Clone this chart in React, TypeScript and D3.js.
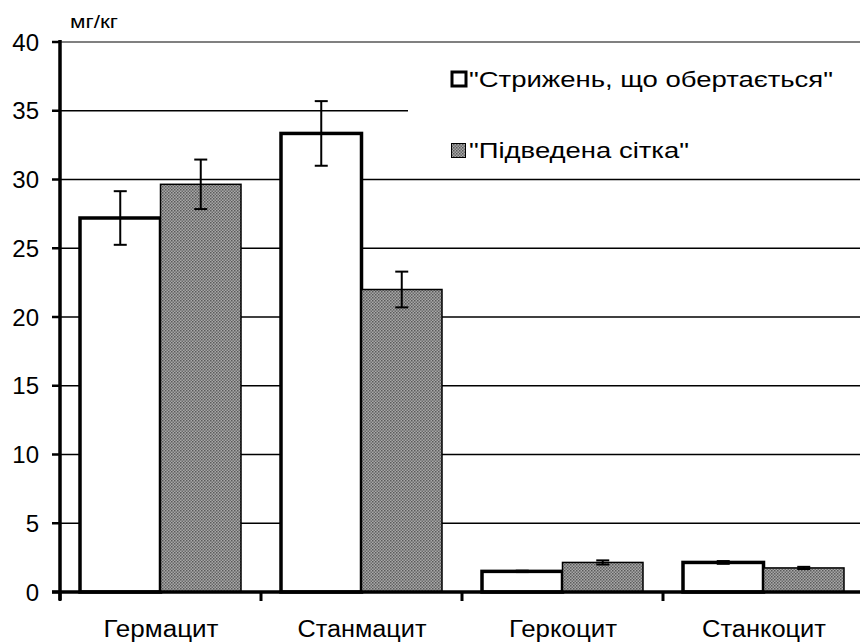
import React from "react";
import * as d3 from "d3";

const categories = ["Гермацит", "Станмацит", "Геркоцит", "Станкоцит"];
const seriesNames = ["\"Стрижень, що обертається\"", "\"Підведена сітка\""];
const rodValues = [27.2, 33.35, 1.5, 2.15];
const rodErrors = [1.95, 2.35, 0.05, 0.1];
const meshValues = [29.65, 22.0, 2.15, 1.75];
const meshErrors = [1.8, 1.3, 0.15, 0.08];
const yTicks = [0, 5, 10, 15, 20, 25, 30, 35, 40];
const unitLabel = "мг/кг";

const W = 860;
const H = 642;
const FONT = "'Liberation Sans', Arial, sans-serif";
const catLabelWidths = [115, 129, 108, 124];
const legendWidths = [364, 220];

export default function App() {
  const x0 = d3.scaleBand<string>().domain(categories).range([60, 864]).padding(0);
  const x1 = d3.scaleBand<number>().domain([0, 1]).range([20, x0.bandwidth() - 20]).padding(0);
  const y = d3.scaleLinear().domain([0, 40]).range([592, 42]);

  const series = [
    { values: rodValues, errors: rodErrors },
    { values: meshValues, errors: meshErrors },
  ];

  const legendLeft = 408;

  return (
    <svg width={W} height={H} style={{ position: "absolute", left: 0, top: 0, background: "#fff" }}>
      <defs>
        <pattern id="dots" width="3" height="3" patternUnits="userSpaceOnUse">
          <rect width="3" height="3" fill="#a8a8a8" />
          <rect x="0" y="0" width="1.5" height="1.5" fill="#5a5a5a" />
          <rect x="1.5" y="1.5" width="1.5" height="1.5" fill="#6a6a6a" />
        </pattern>
      </defs>

      {/* gridlines */}
      {yTicks.filter((t) => t > 0).map((t) => (
        <line
          key={"g" + t}
          x1={60}
          x2={t === 35 ? legendLeft : W}
          y1={y(t)}
          y2={y(t)}
          stroke={t === 40 ? "#808080" : "#000"}
          strokeWidth={t === 40 ? 2 : 1.3}
        />
      ))}

      {/* bars */}
      {categories.map((c, ci) =>
        series.map((s, si) => {
          const bx = (x0(c) as number) + (x1(si) as number);
          const bw = x1.bandwidth();
          const v = s.values[ci];
          const e = s.errors[ci];
          const cx = bx + bw / 2;
          return (
            <g key={c + si}>
              <rect
                x={bx}
                y={y(v)}
                width={bw}
                height={y(0) - y(v)}
                fill={si === 0 ? "#fff" : "url(#dots)"}
                stroke="#000"
                strokeWidth={si === 0 ? 3.5 : 1.5}
              />
              <line x1={cx} x2={cx} y1={y(v + e)} y2={y(v - e)} stroke="#000" strokeWidth={2} />
              <line x1={cx - 6.5} x2={cx + 6.5} y1={y(v + e)} y2={y(v + e)} stroke="#000" strokeWidth={2} />
              <line x1={cx - 6.5} x2={cx + 6.5} y1={y(v - e)} y2={y(v - e)} stroke="#000" strokeWidth={2} />
            </g>
          );
        })
      )}

      {/* axes */}
      <line x1={60} x2={60} y1={y(40) - 2} y2={600} stroke="#000" strokeWidth={3.5} />
      <line x1={52} x2={W} y1={y(0)} y2={y(0)} stroke="#000" strokeWidth={3.5} />
      {yTicks.map((t) => (
        <g key={"t" + t}>
          <line x1={52} x2={60} y1={y(t)} y2={y(t)} stroke="#000" strokeWidth={2.5} />
          <text x={39} y={y(t)} dy="0.36em" textAnchor="end" fontFamily={FONT} fontSize={24} fill="#000">
            {t}
          </text>
        </g>
      ))}
      {categories.map((c) => (
        <line
          key={"xt" + c}
          x1={x0(c) as number}
          x2={x0(c) as number}
          y1={y(0)}
          y2={y(0) + 9}
          stroke="#000"
          strokeWidth={3}
        />
      ))}
      {categories.map((c, i) => (
        <text
          key={"xl" + c}
          x={(x0(c) as number) + x0.bandwidth() / 2 + 0.5}
          y={637}
          textAnchor="middle"
          fontFamily={FONT}
          fontSize={23}
          textLength={catLabelWidths[i]}
          lengthAdjust="spacingAndGlyphs"
          fill="#000"
        >
          {c}
        </text>
      ))}
      <text x={70} y={28} fontFamily={FONT} fontSize={19} textLength={48} lengthAdjust="spacingAndGlyphs" fill="#000">
        {unitLabel}
      </text>

      {/* legend */}
      <rect x={452} y={72} width={14} height={14} fill="#fff" stroke="#000" strokeWidth={3} />
      <text x={469} y={79} dy="0.36em" fontFamily={FONT} fontSize={22} textLength={legendWidths[0]} lengthAdjust="spacingAndGlyphs" fill="#000">
        {seriesNames[0]}
      </text>
      <rect x={451.5} y={143.5} width={14} height={14} fill="url(#dots)" stroke="#000" strokeWidth={1} />
      <text x={469} y={150} dy="0.36em" fontFamily={FONT} fontSize={22} textLength={legendWidths[1]} lengthAdjust="spacingAndGlyphs" fill="#000">
        {seriesNames[1]}
      </text>
    </svg>
  );
}
